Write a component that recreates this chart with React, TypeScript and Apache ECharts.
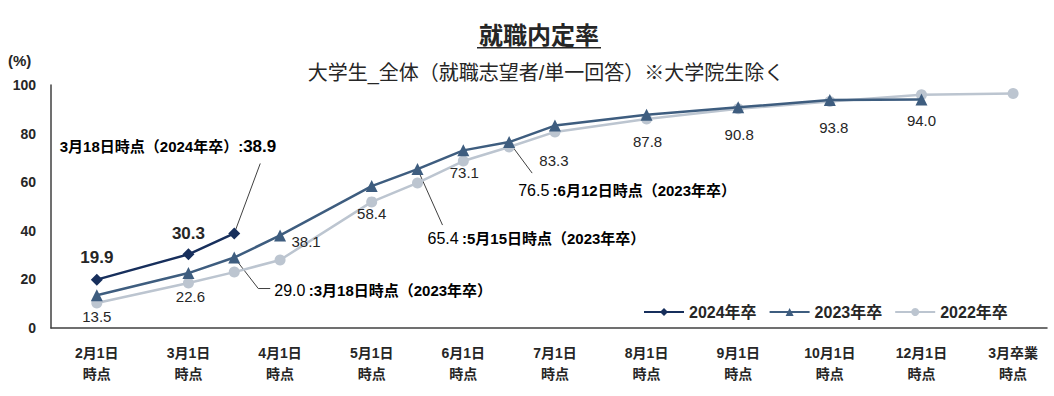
import React, { useEffect, useRef } from "react";
import * as echarts from "echarts";

const categories = ["2月1日", "3月1日", "4月1日", "5月1日", "6月1日", "7月1日", "8月1日", "9月1日", "10月1日", "12月1日", "3月卒業"];
const categorySuffix = "時点";

// x positions on the category scale (0 = 2月1日 ... 10 = 3月卒業; .5 = mid-month survey points)
const x2024 = [0, 1, 1.5];
const v2024 = [19.9, 30.3, 38.9];

const x2023 = [0, 1, 1.5, 2, 3, 3.5, 4, 4.5, 5, 6, 7, 8, 9];
const v2023 = [13.5, 22.6, 29.0, 38.1, 58.4, 65.4, 73.1, 76.5, 83.3, 87.8, 90.8, 93.8, 94.0];

const x2022 = [0, 1, 1.5, 2, 3, 3.5, 4, 4.5, 5, 6, 7, 8, 9, 10];
const v2022 = [10.3, 18.5, 23.0, 28.0, 51.9, 59.7, 68.7, 74.5, 80.7, 86.0, 90.2, 93.2, 96.0, 96.5];

const seriesNames = ["2024年卒", "2023年卒", "2022年卒"];
const yTicks = [0, 20, 40, 60, 80, 100];

const FONT = "'Liberation Sans', 'Noto Sans CJK JP', sans-serif";
const TXT = "#262626";
const C24 = "#172f5c";
const C23 = "#3e5d7f";
const C22 = "#bcc5d0";

// label offsets (style) per point index
const labelOffsets2024: Record<number, number[]> = { 0: [0, -22], 1: [0, -21] };
const labelOffsets2023: Record<number, number[]> = {
  0: [0, 21], 1: [2, 23], 3: [26, 6], 4: [0, 27], 6: [1, 22],
  8: [-1, 35], 9: [1, 27], 10: [1, 27], 11: [4, 27], 12: [0, 21],
};

function build(xs: number[], vs: number[], offsets: Record<number, number[]>, bold: boolean) {
  return xs.map((x, i) => {
    const item: any = { value: [x, vs[i]] };
    if (offsets[i]) {
      item.label = {
        show: true,
        position: "inside",
        offset: offsets[i],
        formatter: (p: any) => p.value[1].toFixed(1),
        color: TXT,
        fontFamily: FONT,
        fontSize: bold ? 17 : 15,
        fontWeight: bold ? "bold" : "normal",
      };
    }
    return item;
  });
}

export default function App() {
  const ref = useRef<HTMLDivElement>(null);
  useEffect(() => {
    if (!ref.current) return;
    const chart = echarts.init(ref.current, null, { renderer: "svg" });
    chart.setOption({
      animation: false,
      backgroundColor: "#ffffff",
      grid: { left: 51, right: 7, top: 85, bottom: 68 },
      legend: {
        data: seriesNames,
        left: 638,
        top: 299,
        itemWidth: 40,
        itemHeight: 10,
        itemGap: 12,
        textStyle: { color: TXT, fontFamily: FONT, fontSize: 16, fontWeight: "bold" },
      },
      xAxis: {
        type: "value",
        min: -0.5,
        max: 10.37,
        interval: 0.5,
        splitLine: { show: false },
        axisTick: { show: false },
        axisLine: { show: true, onZero: false, lineStyle: { color: "#404040", width: 1.5 } },
        axisLabel: {
          showMinLabel: true,
          showMaxLabel: true,
          margin: 14,
          lineHeight: 21,
          color: TXT,
          fontFamily: FONT,
          fontSize: 14,
          fontWeight: "bold",
          formatter: (v: number) => {
            const r = Math.round(v);
            if (Math.abs(v - r) > 1e-6 || r < 0 || r >= categories.length) return "";
            return categories[r] + "\n" + categorySuffix;
          },
        },
      },
      yAxis: {
        type: "value",
        min: yTicks[0],
        max: yTicks[yTicks.length - 1],
        interval: 20,
        splitLine: { show: false },
        axisTick: { show: false },
        axisLine: { show: true, onZero: false, lineStyle: { color: "#404040", width: 1.5 } },
        axisLabel: { margin: 15, color: TXT, fontFamily: FONT, fontSize: 14, fontWeight: "bold" },
      },
      series: [
        {
          name: seriesNames[2], type: "line", z: 2,
          data: build(x2022, v2022, {}, false),
          symbol: "circle", symbolSize: 11,
          lineStyle: { color: C22, width: 2.5 }, itemStyle: { color: C22 },
        },
        {
          name: seriesNames[1], type: "line", z: 3,
          data: build(x2023, v2023, labelOffsets2023, false),
          symbol: "triangle", symbolSize: 12,
          lineStyle: { color: C23, width: 2.5 }, itemStyle: { color: C23 },
        },
        {
          name: seriesNames[0], type: "line", z: 4,
          data: build(x2024, v2024, labelOffsets2024, true),
          symbol: "diamond", symbolSize: 12,
          lineStyle: { color: C24, width: 2.5 }, itemStyle: { color: C24 },
        },
      ],
    });

    const px = (x: number, y: number) => chart.convertToPixel({ xAxisIndex: 0, yAxisIndex: 0 }, [x, y]) as number[];
    const p24 = px(x2024[2], v2024[2]);
    const p23a = px(x2023[2], v2023[2]);
    const p23b = px(x2023[5], v2023[5]);
    const p23c = px(x2023[7], v2023[7]);
    const lead = { stroke: "#404040", lineWidth: 1, fill: null };
    const rich = {
      n: { fontFamily: FONT, fontSize: 16, color: TXT },
      b: { fontFamily: FONT, fontSize: 15, fontWeight: "bold", color: TXT },
      big: { fontFamily: FONT, fontSize: 17, fontWeight: "bold", color: TXT },
    };
    chart.setOption({
      graphic: [
        { type: "text", x: 539, y: 35, style: { text: "就職内定率", font: `bold 24px ${FONT}`, fill: TXT, align: "center", verticalAlign: "middle" } },
        { type: "rect", shape: { x: 477, y: 47, width: 124, height: 1.6 }, style: { fill: TXT } },
        { type: "text", x: 546, y: 73, style: { text: "大学生_全体（就職志望者/単一回答）※大学院生除く", font: `20px ${FONT}`, fill: TXT, align: "center", verticalAlign: "middle" } },
        { type: "text", x: 8, y: 60, style: { text: "(%)", font: `bold 15px ${FONT}`, fill: TXT, verticalAlign: "middle" } },
        // 2024 3/18 callout
        { type: "line", shape: { x1: p24[0], y1: p24[1], x2: p24[0] + 26, y2: p24[1] - 70 }, style: lead },
        { type: "text", x: p24[0] + 42, y: p24[1] - 87, style: { text: "{b|3月18日時点（2024年卒）}{b|:}{big|38.9}", rich, align: "right", verticalAlign: "middle" } },
        // 2023 3/18 callout
        { type: "polyline", shape: { points: [[p23a[0], p23a[1]], [p23a[0] + 24, p23a[1] + 31], [p23a[0] + 36, p23a[1] + 31]] }, style: lead },
        { type: "text", x: p23a[0] + 40, y: p23a[1] + 33, style: { text: "{n|29.0} {b|:3月18日時点（2023年卒）}", rich, align: "left", verticalAlign: "middle" } },
        // 2023 5/15 callout
        { type: "line", shape: { x1: p23b[0], y1: p23b[1], x2: p23b[0] + 25, y2: p23b[1] + 56 }, style: lead },
        { type: "text", x: p23b[0] + 10, y: p23b[1] + 69, style: { text: "{n|65.4} {b|:5月15日時点（2023年卒）}", rich, align: "left", verticalAlign: "middle" } },
        // 2023 6/12 callout
        { type: "line", shape: { x1: p23c[0], y1: p23c[1], x2: p23c[0] + 23, y2: p23c[1] + 31 }, style: lead },
        { type: "text", x: p23c[0] + 9, y: p23c[1] + 48, style: { text: "{n|76.5} {b|:6月12日時点（2023年卒）}", rich, align: "left", verticalAlign: "middle" } },
      ],
    });
    return () => chart.dispose();
  }, []);
  return <div ref={ref} style={{ position: "absolute", left: 0, top: 0, width: 1054, height: 396 }} />;
}
